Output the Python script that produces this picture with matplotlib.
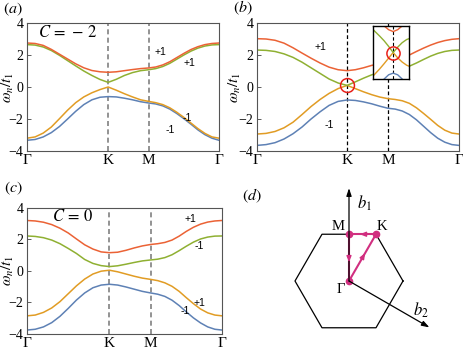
import numpy as np
import matplotlib
matplotlib.use("Agg")
import matplotlib.pyplot as plt

plt.rcParams["mathtext.fontset"] = "stix"
plt.rcParams["font.family"] = ["Liberation Serif", "DejaVu Serif"]

# colours of the four bands (lowest to highest)
band_colors = ["#5E81B5", "#E19C24", "#8FB032", "#EB6235"]

# sample positions along each segment, as fractions of the segment
frac_GK = [0, .1, .2, .3, .4, .5, .6, .7, .8, .9, 1.0]
frac_KM = [.2, .4, .6, .8, 1.0]
frac_MG = [.1, .2, .3, .4, .5, .6, .7, .8, .9, 1.0]

# segment lengths Gamma-K, K-M, M-Gamma
seg_std = [1.0, 0.5, 0.866]
seg_b = [1.1, 0.5, 0.866]

# ---- panel (a), C = -2 ----
a_blue = [-3.33, -3.28, -3.12, -2.85, -2.47, -2.0, -1.52, -1.1, -0.8, -0.64, -0.6,
          -0.62, -0.7, -0.8, -0.92, -1.0,
          -1.06, -1.18, -1.38, -1.66, -1.98, -2.32, -2.68, -2.98, -3.2, -3.33]
a_orange = [-3.2, -3.12, -2.88, -2.5, -1.98, -1.45, -0.98, -0.62, -0.36, -0.16, 0.0,
            -0.2, -0.42, -0.62, -0.8, -0.9,
            -0.98, -1.1, -1.3, -1.58, -1.9, -2.25, -2.6, -2.9, -3.12, -3.2]
a_green = [2.65, 2.62, 2.5, 2.28, 1.98, 1.65, 1.32, 1.0, 0.72, 0.47, 0.29,
           0.48, 0.72, 0.9, 1.02, 1.08,
           1.15, 1.28, 1.48, 1.74, 2.0, 2.24, 2.43, 2.56, 2.63, 2.65]
a_red = [2.75, 2.72, 2.6, 2.35, 2.05, 1.75, 1.45, 1.2, 1.03, 0.95, 0.92,
         0.95, 1.02, 1.09, 1.15, 1.19,
         1.25, 1.38, 1.58, 1.84, 2.1, 2.34, 2.52, 2.65, 2.72, 2.75]

# ---- panel (b), gap closing at K ----
b_blue = [-3.65, -3.6, -3.48, -3.25, -2.92, -2.5, -2.0, -1.55, -1.15, -0.9, -0.81,
          -0.84, -0.93, -1.05, -1.2, -1.33,
          -1.38, -1.5, -1.72, -2.05, -2.45, -2.85, -3.2, -3.45, -3.6, -3.65]
b_orange = [-2.94, -2.9, -2.78, -2.55, -2.2, -1.72, -1.22, -0.78, -0.4, -0.1, 0.1,
            -0.1, -0.3, -0.48, -0.63, -0.73,
            -0.78, -0.86, -1.02, -1.3, -1.65, -2.02, -2.4, -2.7, -2.88, -2.94]
b_green = [2.31, 2.29, 2.22, 2.07, 1.85, 1.55, 1.2, 0.85, 0.5, 0.25, 0.1,
           0.32, 0.55, 0.76, 0.92, 1.0,
           1.05, 1.15, 1.3, 1.5, 1.72, 1.93, 2.1, 2.22, 2.29, 2.31]
b_red = [3.02, 3.0, 2.92, 2.74, 2.45, 2.12, 1.8, 1.5, 1.24, 1.08, 1.02,
         1.08, 1.2, 1.35, 1.47, 1.55,
         1.63, 1.78, 2.0, 2.22, 2.43, 2.62, 2.78, 2.9, 2.98, 3.02]

# inset of (b): zoom on the crossing
ins_q = [-1.2, -0.75, -0.5, -0.25, 0.0, 0.25, 0.5, 0.75, 1.0]
ins_blue = [-1.5, -1.2, -1.0, -0.84, -0.78, -0.84, -1.0, -1.2, -1.5]
ins_orange = [-0.95, -0.62, -0.42, -0.21, 0.0, -0.2, -0.36, -0.48, -0.55]
ins_green = [0.92, 0.62, 0.44, 0.23, 0.0, 0.2, 0.37, 0.49, 0.55]
ins_red = [1.5, 1.2, 1.0, 0.86, 0.79, 0.86, 1.0, 1.2, 1.5]

# ---- panel (c), C = 0 ----
c_blue = [-3.75, -3.7, -3.55, -3.28, -2.88, -2.38, -1.85, -1.4, -1.07, -0.9, -0.85,
          -0.9, -1.02, -1.16, -1.3, -1.4,
          -1.48, -1.62, -1.86, -2.2, -2.6, -2.98, -3.3, -3.55, -3.7, -3.75]
c_orange = [-2.85, -2.8, -2.63, -2.35, -1.95, -1.45, -0.95, -0.52, -0.2, -0.02, 0.04,
            -0.06, -0.2, -0.34, -0.46, -0.54,
            -0.62, -0.76, -0.98, -1.3, -1.7, -2.08, -2.42, -2.66, -2.8, -2.85]
c_green = [2.21, 2.18, 2.1, 1.95, 1.72, 1.42, 1.1, 0.72, 0.47, 0.33, 0.27,
           0.32, 0.42, 0.53, 0.63, 0.69,
           0.74, 0.84, 1.02, 1.28, 1.56, 1.82, 2.02, 2.14, 2.2, 2.21]
c_red = [3.19, 3.16, 3.08, 2.93, 2.7, 2.4, 2.02, 1.65, 1.38, 1.2, 1.15,
         1.18, 1.3, 1.45, 1.58, 1.67,
         1.72, 1.8, 1.95, 2.2, 2.5, 2.76, 2.96, 3.09, 3.16, 3.19]

k_labels = ["Γ", "K", "M", "Γ"]
y_ticks = [-4, -2, 0, 2, 4]

# Brillouin zone (circumradius 1, flat top), reciprocal vectors
bz_radius = 1.0
b_len = 1.72
b1_angle = 90
b2_angle = -30


def path_k(seg):
    gk = np.array(frac_GK) * seg[0]
    km = seg[0] + np.array(frac_KM) * seg[1]
    mg = seg[0] + seg[1] + np.array(frac_MG) * seg[2]
    return np.concatenate([gk, km, mg])


def band_panel(rect, seg, bands, dash_color, dash_lw, ylabel_x):
    ax = fig.add_axes(rect)
    k = path_k(seg)
    for vals, col in zip(bands, band_colors):
        ax.plot(k, vals, color=col, lw=1.1)
    kK, kM, kend = seg[0], seg[0] + seg[1], sum(seg)
    for xv in (kK, kM):
        ax.axvline(xv, color=dash_color, lw=dash_lw, ls=(0, (3, 2)), zorder=0)
    ax.set_xlim(0, kend)
    ax.set_ylim(-4, 4)
    ax.set_xticks([0, kK, kM, kend])
    ax.set_xticklabels(k_labels, fontsize=11)
    ax.set_yticks(y_ticks)
    ax.set_yticklabels([str(v).replace("-", "\u2212") for v in y_ticks], fontsize=10)
    ax.tick_params(direction="in", length=3, width=0.6, pad=2.5, color="#444444")
    ax.tick_params(axis="x", length=0, pad=2)
    for s in ax.spines.values():
        s.set_color("#555555")
        s.set_linewidth(0.8)
    ax.set_ylabel(r"$\omega_n/t_1$", fontsize=11)
    ax.yaxis.set_label_coords(ylabel_x, 0.5)
    return ax


fig = plt.figure(figsize=(4.63, 3.51), dpi=100)
sans = ["Liberation Sans", "DejaVu Sans"]

# (a)
ax_a = band_panel([27 / 463, 1 - 151 / 351, 192 / 463, 128 / 351], seg_std,
                  [a_blue, a_orange, a_green, a_red], "#808080", 1.2, -0.055)
ax_a.text(0.505, 3.38, r"$C\,=\,-\,2$", fontsize=12, ha="center", va="center")
ax_a.text(1.65, 2.19, "+1", family=sans, fontsize=7.5, ha="center", va="center")
ax_a.text(2.0, 1.5, "+1", family=sans, fontsize=7.5, ha="center", va="center")
ax_a.text(1.98, -1.94, "-1", family=sans, fontsize=7.5, ha="center", va="center")
ax_a.text(1.77, -2.69, "-1", family=sans, fontsize=7.5, ha="center", va="center")

# (b)
ax_b = band_panel([257 / 463, 1 - 151 / 351, 202 / 463, 128 / 351], seg_b,
                  [b_blue, b_orange, b_green, b_red], "black", 0.9, -0.068)
ax_b.text(0.78, 2.5, "+1", family=sans, fontsize=7.5, ha="center", va="center")
ax_b.text(0.88, -2.38, "-1", family=sans, fontsize=7.5, ha="center", va="center")
ax_b.plot([seg_b[0]], [0.12], marker="o", ms=10, mfc="none", mec="#E8201A", mew=1.1)

ax_in = fig.add_axes([373 / 463, 1 - 79 / 351, 36 / 463, 53 / 351])
for vals, col in zip([ins_blue, ins_orange, ins_green, ins_red], band_colors):
    ax_in.plot(ins_q, vals, color=col, lw=1.0)
ax_in.axvline(0, color="black", lw=0.8, ls=(0, (3, 2)), zorder=0)
ax_in.plot([0], [0], marker="o", ms=9.5, mfc="none", mec="#E8201A", mew=1.1)
ax_in.set_xlim(-1.12, 0.88)
ax_in.set_ylim(-1, 1)
ax_in.set_xticks([])
ax_in.set_yticks([])
for s in ax_in.spines.values():
    s.set_linewidth(1.0)

# (c)
ax_c = band_panel([27 / 463, 1 - 334 / 351, 195 / 463, 126.3 / 351], seg_std,
                  [c_blue, c_orange, c_green, c_red], "#808080", 1.2, -0.055)
ax_c.text(0.55, 3.42, r"$C\,=\,0$", fontsize=12, ha="center", va="center")
ax_c.text(1.98, 3.27, "+1", family=sans, fontsize=7.5, ha="center", va="center")
ax_c.text(2.09, 1.56, "-1", family=sans, fontsize=7.5, ha="center", va="center")
ax_c.text(2.09, -2.02, "+1", family=sans, fontsize=7.5, ha="center", va="center")
ax_c.text(1.92, -2.53, "-1", family=sans, fontsize=7.5, ha="center", va="center")

# (d) Brillouin zone
scale = 54.0  # px per unit
ax_d = fig.add_axes([240 / 463, 0, 223 / 463, 181 / 351])
ax_d.set_xlim(-(349 - 240) / scale, (463 - 349) / scale)
ax_d.set_ylim(-(351 - 281) / scale, (281 - 170) / scale)
ax_d.axis("off")

ang = np.deg2rad(np.arange(0, 361, 60))
ax_d.plot(bz_radius * np.cos(ang), bz_radius * np.sin(ang), color="black", lw=0.9)

for a in (b1_angle, b2_angle):
    t = np.deg2rad(a)
    ax_d.annotate("", xy=(b_len * np.cos(t), b_len * np.sin(t)), xytext=(0, 0),
                  arrowprops=dict(arrowstyle="-|>,head_length=0.45,head_width=0.15",
                                  color="black", lw=0.9, shrinkA=0, shrinkB=0))

G = np.array([0.0, 0.0])
K = bz_radius * np.array([np.cos(np.pi / 3), np.sin(np.pi / 3)])
M = np.array([0.0, K[1]])
mag = "#D12F80"
for p0, p1 in ((G, K), (K, M), (M, G)):
    ax_d.plot([p0[0], p1[0]], [p0[1], p1[1]], color=mag, lw=1.5, solid_capstyle="round")
    ax_d.annotate("", xy=p0 + 0.6 * (p1 - p0), xytext=p0 + 0.5 * (p1 - p0),
                  arrowprops=dict(arrowstyle="-|>,head_length=0.35,head_width=0.14",
                                  color=mag, lw=1.0, shrinkA=0, shrinkB=0))
for p in (G, K, M):
    ax_d.plot(p[0], p[1], "o", color=mag, ms=4.5)

ax_d.text(-0.2, 1.0, "M", fontsize=10.5, ha="center", va="center")
ax_d.text(0.61, 1.0, "K", fontsize=10.5, ha="center", va="center")
ax_d.text(-0.15, -0.15, "Γ", fontsize=10.5, ha="center", va="center")
ax_d.text(0.28, 1.44, r"$b_1$", fontsize=12, ha="center", va="center")
ax_d.text(1.33, -0.54, r"$b_2$", fontsize=12, ha="center", va="center")

# panel letters
for label, (px, py) in {"(a)": (13, 9), "(b)": (243, 8), "(c)": (13, 188), "(d)": (252, 196)}.items():
    fig.text(px / 463, 1 - py / 351, r"$" + label + "$", fontsize=11.5, ha="center", va="center")

fig.savefig("out.png", dpi=100)
